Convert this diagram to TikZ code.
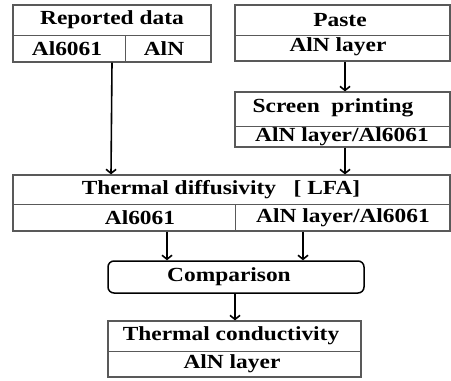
\documentclass[tikz,border=0pt]{standalone}
\usepackage{fontspec}
\setmainfont{Liberation Serif}
\usetikzlibrary{arrows.meta}
\begin{document}
\begin{tikzpicture}[x=1pt,y=-1pt,
  box/.style={draw=black!65, line width=1.3pt, inner sep=0pt},
  roundbox/.style={draw=black, line width=1.5pt, rounded corners=6pt, inner sep=0pt},
  divline/.style={draw=black!65, line width=1pt},
  txt/.style={inner sep=0pt, transform shape, xscale=1.17, font=\fontsize{20}{24}\selectfont\bfseries},
  arr/.style={draw=black, line width=1.6pt, -{Straight Barb[length=4pt,width=10pt]}}]
\useasboundingbox (0,0) rectangle (451,381);
% boxes
\node[box, minimum width=198pt, minimum height=57pt] (rep) at (112,33.5) {};
\node[box, minimum width=215pt, minimum height=56pt] (paste) at (342.5,33) {};
\node[box, minimum width=215pt, minimum height=55pt] (screen) at (342.5,119.5) {};
\node[box, minimum width=437pt, minimum height=56pt] (therm) at (231.5,203) {};
\node[roundbox, minimum width=256pt, minimum height=32pt] (comp) at (236,277) {};
\node[box, minimum width=253pt, minimum height=56pt] (cond) at (234.5,349) {};
% dividers
\draw[divline] (rep.west |- 0,35) -- (rep.east |- 0,35);
\draw[divline] (125,35) -- (rep.south -| 125,0);
\draw[divline] (paste.west |- 0,35) -- (paste.east |- 0,35);
\draw[divline] (screen.west |- 0,126) -- (screen.east |- 0,126);
\draw[divline] (therm.west |- 0,204) -- (therm.east |- 0,204);
\draw[divline] (235,204) -- (therm.south -| 235,0);
\draw[divline] (cond.west |- 0,351) -- (cond.east |- 0,351);
% texts
\node[txt] (t1) at (112,20) {Reported data};
\node[txt] (t2) at (67,49) {Al6061};
\node[txt] (t3) at (164,49) {AlN};
\node[txt] (t4) at (340,20) {Paste};
\node[txt] (t5) at (338,47) {AlN layer};
\node[txt] (t6) at (333,108) {Screen\ \ printing};
\node[txt] (t7) at (342,137) {AlN layer/Al6061};
\node[txt] (t8) at (221,190) {Thermal diffusivity\ \ \ [ LFA]};
\node[txt] (t9) at (140,218) {Al6061};
\node[txt] (t10) at (343,218) {AlN layer/Al6061};
\node[txt] (t11) at (229,277) {Comparison};
\node[txt] (t12) at (231,336) {Thermal conductivity};
\node[txt] (t13) at (232,364) {AlN layer};
% arrows
\draw[arr] (paste.south -| 345,0) -- (screen.north -| 345,0);
\draw[arr] (screen.south -| 345,0) -- (therm.north -| 345,0);
\draw[arr] (rep.south -| 112,0) -- (therm.north -| 111,0);
\draw[arr] (therm.south -| 167,0) -- (comp.north -| 167,0);
\draw[arr] (therm.south -| 303,0) -- (comp.north -| 303,0);
\draw[arr] (comp.south -| 235,0) -- (cond.north -| 235,0);
\end{tikzpicture}
\end{document}
